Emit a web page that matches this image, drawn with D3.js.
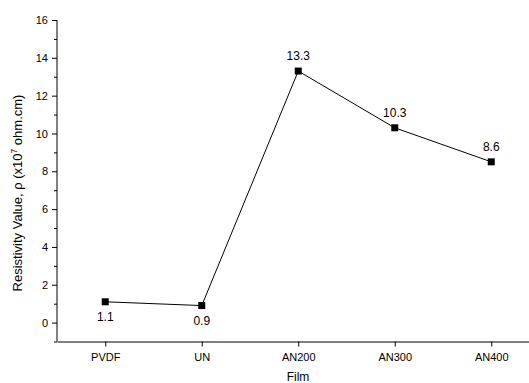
<!DOCTYPE html>
<html>
<head>
<meta charset="utf-8">
<script src="https://cdn.jsdelivr.net/npm/d3@7"></script>
<style>
  body { margin: 0; background: #fff; }
  svg { display: block; font-family: "Liberation Sans", Arial, sans-serif; }
</style>
</head>
<body>
<svg id="chart" width="529" height="383"></svg>
<script>
const films = ['PVDF', 'UN', 'AN200', 'AN300', 'AN400'];
const resistivity = [1.1, 0.9, 13.3, 10.3, 8.5];
const labels = ['1.1', '0.9', '13.3', '10.3', '8.6'];
const labelBelow = [true, true, false, false, false];
const yTicks = [0, 2, 4, 6, 8, 10, 12, 14, 16];

const svg = d3.select('#chart');
const x = d3.scaleLinear().domain([-0.5, 4.5]).range([57, 539.5]);
const y = d3.scaleLinear().domain([-1, 16]).range([341.5, 20]);

// y axis with minor ticks
const yAxis = svg.append('g').attr('transform', 'translate(57,0)');
yAxis.call(d3.axisLeft(y).tickValues(yTicks).tickSize(5).tickSizeOuter(0).tickFormat(d3.format('d')));
yAxis.append('g').call(d3.axisLeft(y).tickValues(d3.range(-1, 16, 2)).tickSize(3).tickFormat(''))
  .select('.domain').remove();
yAxis.select('.domain').attr('d', `M0,${y(-1)}V${y(16)}`);

const xAxis = svg.append('g').attr('transform', `translate(0,${y(-1)})`);
xAxis.call(d3.axisBottom(x).tickValues(d3.range(films.length)).tickSize(5).tickSizeOuter(0)
  .tickFormat(i => films[i]));

svg.selectAll('.tick text').attr('font-size', 11).attr('fill', '#000');
svg.selectAll('.domain, .tick line').attr('stroke', '#000');
yAxis.selectAll('.tick text').attr('x', -9);
xAxis.selectAll('.tick text').attr('y', 12);

// line and markers
svg.append('path')
  .datum(resistivity)
  .attr('fill', 'none')
  .attr('stroke', '#000')
  .attr('stroke-width', 1)
  .attr('d', d3.line().x((d, i) => x(i)).y(d => y(d)));

svg.selectAll('rect.pt')
  .data(resistivity)
  .enter().append('rect')
  .attr('class', 'pt')
  .attr('x', (d, i) => x(i) - 3.5)
  .attr('y', d => y(d) - 3.5)
  .attr('width', 7)
  .attr('height', 7)
  .attr('fill', '#000');

svg.selectAll('text.val')
  .data(resistivity)
  .enter().append('text')
  .attr('class', 'val')
  .attr('x', (d, i) => x(i))
  .attr('y', (d, i) => labelBelow[i] ? y(d) + 19 : y(d) - 11)
  .attr('text-anchor', 'middle')
  .attr('font-size', 12)
  .text((d, i) => labels[i]);

// axis titles
svg.append('text')
  .attr('x', 298)
  .attr('y', 381)
  .attr('text-anchor', 'middle')
  .attr('font-size', 12)
  .text('Film');

const yt = svg.append('text')
  .attr('transform', 'translate(22,193) rotate(-90)')
  .attr('text-anchor', 'middle')
  .attr('font-size', 13);
yt.append('tspan').text('Resistivity Value, ρ (x10');
yt.append('tspan').attr('font-size', 8.5).attr('dy', -5).text('7');
yt.append('tspan').attr('dy', 5).text(' ohm.cm)');
</script>
</body>
</html>
